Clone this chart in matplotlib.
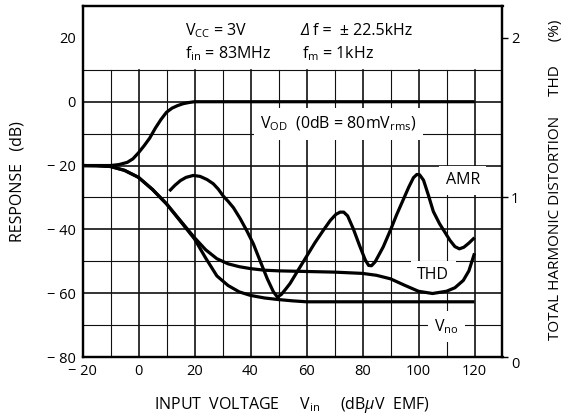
import matplotlib
matplotlib.use('Agg')
import matplotlib.pyplot as plt

plt.rcParams['font.family'] = ['Open Sans', 'DejaVu Sans']
plt.rcParams['mathtext.fontset'] = 'custom'
plt.rcParams['mathtext.rm'] = 'Open Sans'
plt.rcParams['mathtext.it'] = 'Open Sans:italic'
plt.rcParams['mathtext.bf'] = 'Open Sans:bold'

# ---- data ----
vod_x = [-20, -10, -7, -4, -2, 0, 2, 4, 6, 8, 10, 12, 14, 16, 18, 20, 120]
vod_y = [-20, -20, -19.7, -19.0, -17.9, -16.0, -13.8, -11.4, -8.3, -5.6, -3.3, -2.0,
         -1.2, -0.6, -0.25, 0, 0]

thd_x = [-20, -15, -10, -5, 0, 5, 10, 15, 20, 24, 28, 32, 36, 40, 45, 50, 60, 70, 80,
         85, 90, 95, 100, 105, 110, 113, 116, 118, 120]
thd_y = [-20, -20.05, -20.3, -21.5, -23.7, -27.5, -32, -37.3, -42.6, -46.4, -49.2, -50.8,
         -51.7, -52.3, -52.8, -53, -53.2, -53.4, -53.8, -54.4, -55.5, -57.5, -59.4, -60.1,
         -59.4, -58.3, -56, -53, -47.5]

vno_x = [-20, -15, -10, -5, 0, 5, 10, 15, 20, 24, 28, 32, 36, 40, 45, 50, 55, 60, 120]
vno_y = [-20, -20.05, -20.3, -21.5, -23.7, -27.5, -32, -37.5, -43, -49, -54.6, -57.6,
         -59.6, -60.7, -61.5, -62.0, -62.4, -62.7, -62.7]

amr_x = [11, 13, 15, 17, 19.6, 22, 24.5, 26.7, 28.5, 30.3, 32, 33.9, 36.3, 38.6, 41,
         43.4, 46, 48.2, 49.6, 51, 52.5, 54.1, 57, 60, 63, 66, 68.5, 70.5, 72, 73.3,
         74.7, 76.7, 79, 81, 82.2, 83.2, 84.5, 87.4, 90, 92.2, 94.5, 96.5, 98.2, 99.4,
         100.4, 101.8, 103.5, 105.3, 107.5, 109.5, 111.2, 113, 114.6, 116.2, 118, 120]
amr_y = [-28, -26.2, -24.7, -23.7, -23.1, -23.4, -24.4, -25.7, -27.4, -29.6, -31.2,
         -33.2, -36.6, -40.3, -44.5, -49.8, -55.5, -59.6, -61.2, -60.4, -58.8, -57,
         -52.8, -48.5, -44.2, -40.3, -37.2, -35.3, -34.6, -34.6, -35.8, -39.8, -45.2,
         -49.6, -51.3, -51.4, -50.2, -45.5, -40.2, -35.4, -30.8, -26.8, -23.8, -22.8,
         -22.9, -24.6, -29.2, -34.4, -38.2, -41.0, -43.4, -45.4, -46.1, -45.6, -44.3,
         -42.6]

x_ticks = [-20, 0, 20, 40, 60, 80, 100, 120]
x_tick_labels = ['\u2212 20', '0', '20', '40', '60', '80', '100', '120']
y_ticks = [-80, -60, -40, -20, 0, 20]
y_tick_labels = ['\u2212 80', '\u2212 60', '\u2212 40', '\u2212 20', '0', '20']
thd_ticks = [0, 1, 2]
thd_tick_labels = ['0', '1', '2']
grid_x = [-10, 0, 10, 20, 30, 40, 50, 60, 70, 80, 90, 100, 110, 120]
grid_y = [-70, -60, -50, -40, -30, -20, -10, 0, 10]

# ---- figure ----
W, H = 576, 419
fig = plt.figure(figsize=(W / 100, H / 100), dpi=100)
ax = fig.add_axes([82.5 / W, 1 - 357 / H, 420 / W, 351 / H])
ax.set_xlim(-20, 130)
ax.set_ylim(-80, 30)

for gx in grid_x:
    lw = 1.2 if gx % 20 == 0 else 0.8
    ax.plot([gx, gx], [-80, 10], color='#111111', lw=lw, zorder=1)
for gy in grid_y:
    lw = 1.2 if gy % 20 == 0 else 0.8
    ax.plot([-20, 130], [gy, gy], color='#111111', lw=lw, zorder=1)

curve_kw = dict(color='black', lw=2.3, zorder=4, solid_capstyle='butt', solid_joinstyle='round')
ax.plot(vod_x, vod_y, **curve_kw)
ax.plot(thd_x, thd_y, **curve_kw)
ax.plot(vno_x, vno_y, **curve_kw)
ax.plot(amr_x, amr_y, **curve_kw)

ax.set_xticks(x_ticks)
ax.set_xticklabels(x_tick_labels)
ax.set_yticks(y_ticks)
ax.set_yticklabels(y_tick_labels)
ax.tick_params(axis='both', length=0, labelsize=10.5, colors='black')
ax.tick_params(axis='x', pad=5)
ax.tick_params(axis='y', pad=5)
for s in ax.spines.values():
    s.set_linewidth(1.6)

ax2 = ax.twinx()
ax2.set_ylim(0, 2.2)
ax2.set_yticks(thd_ticks)
ax2.set_yticklabels(thd_tick_labels)
ax2.tick_params(axis='y', length=4, width=1, direction='out', pad=2, labelsize=10.5)
ax2.get_yticklabels()[0].set_verticalalignment('top')
for s in ax2.spines.values():
    s.set_linewidth(1.6)

fs = 11.5
box = dict(facecolor='white', edgecolor='none', boxstyle='square,pad=0.4')

# Condition text
ax.text(16.6, 22.3, r'V$_{\rm CC}$ = 3V', fontsize=fs, va='center', ha='left')
ax.text(16.6, 15.2, r'f$_{\rm in}$ = 83MHz', fontsize=fs, va='center', ha='left')
ax.text(58.0, 22.3, '\u0394', fontsize=fs, va='center', ha='left', style='italic')
ax.text(62.3, 22.3, 'f =  \u00b1 22.5kHz', fontsize=fs, va='center', ha='left')
ax.text(58.4, 15.2, r'f$_{\rm m}$ = 1kHz', fontsize=fs, va='center', ha='left')

# curve labels
ax.text(43.5, -7.0, r'V$_{\rm OD}$  (0dB = 80mV$_{\rm rms}$)', fontsize=fs,
        va='center', ha='left', bbox=box, zorder=3)
ax.text(115.8, -24.6, 'AMR', fontsize=fs, va='center', ha='center', bbox=box, zorder=3)
ax.text(105.3, -54.4, 'THD', fontsize=fs, va='center', ha='center', bbox=box, zorder=3)
ax.text(110.0, -70.4, r'V$_{\rm no}$', fontsize=fs, va='center', ha='center', bbox=box, zorder=3)

# axis titles
fig.text(292 / W, 1 - 405 / H, r'INPUT  VOLTAGE     V$_{\rm in}$     (dB$\mu$V  EMF)',
         fontsize=fs, ha='center', va='center')
fig.text(18 / W, 1 - 182 / H, 'RESPONSE   (dB)', fontsize=fs, rotation=90,
         ha='center', va='center')
fig.text(555 / W, 1 - 180 / H, 'TOTAL HARMONIC DISTORTION     THD      (%)', fontsize=11,
         rotation=90, ha='center', va='center')

fig.savefig('out.png', dpi=100)
